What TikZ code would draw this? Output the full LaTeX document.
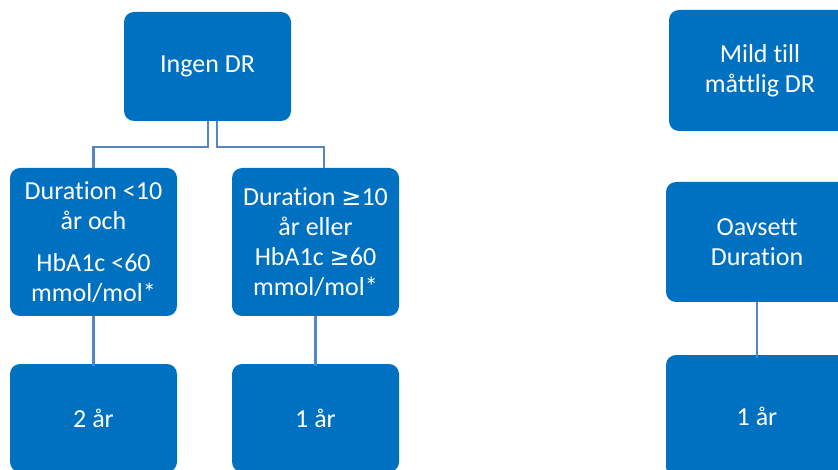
\documentclass[tikz,border=0pt]{standalone}
\usepackage{fontspec}
\setmainfont[Ligatures={NoCommon}]{Carlito}
\newfontfamily\symfont{DejaVu Sans}
\definecolor{boxblue}{RGB}{0,112,192}
\definecolor{linkblue}{RGB}{84,135,190}
\tikzset{
  card/.style={fill=boxblue, draw=none, rounded corners=10pt, text=white,
    align=center, inner sep=0pt, font=\fontsize{26}{30}\selectfont},
  link/.style={draw=linkblue, line width=2.6pt}
}
\newcommand{\atleast}{{\symfont\fontsize{24}{30}\selectfont≥}}
\begin{document}
\begin{tikzpicture}[x=1pt,y=-1pt]
  \useasboundingbox (0,0) rectangle (838,470);
  \clip (0,0) rectangle (838,470);

  % left tree
  \node[card, minimum width=167pt, minimum height=109pt] (ingen) at (207.5,66.5) {Ingen DR};
  \node[card, minimum width=167pt, minimum height=148pt] (kort) at (93.5,242)
    {Duration <10\\år och\\[12pt]HbA1c <60\\mmol/mol*};
  \node[card, minimum width=167pt, minimum height=148pt] (lang) at (315.5,242)
    {Duration \atleast10\\år eller\\HbA1c \atleast60\\mmol/mol*};
  \node[card, minimum width=167pt, minimum height=108pt] (tvaar) at (93.5,418) {2 år};
  \node[card, minimum width=167pt, minimum height=108pt] (ettaar) at (315.5,418) {1 år};

  % right column
  \node[card, minimum width=182pt, minimum height=121pt] (mild) at (760,70.5) {Mild till\\måttlig DR};
  \node[card, minimum width=182pt, minimum height=120pt] (oavsett) at (757,242) {Oavsett\\Duration};
  \node[card, minimum width=182pt, minimum height=122pt] (ettaarb) at (757,416) {1 år};

  % connectors
  \coordinate (busL) at (208,147);
  \coordinate (busR) at (217,147);
  \draw[link] (ingen.south -| busL) -- (busL) -| (kort.north);
  \draw[link] (ingen.south -| busR) -- (busR) -| ([xshift=8.5pt]lang.north);
  \draw[link] (kort.south) -- ([yshift=-2pt]tvaar.north);
  \draw[link] (lang.south) -- ([yshift=-2pt]ettaar.north);
  \draw[link] (oavsett.south) -- ([yshift=-3pt]ettaarb.north);
\end{tikzpicture}
\end{document}
